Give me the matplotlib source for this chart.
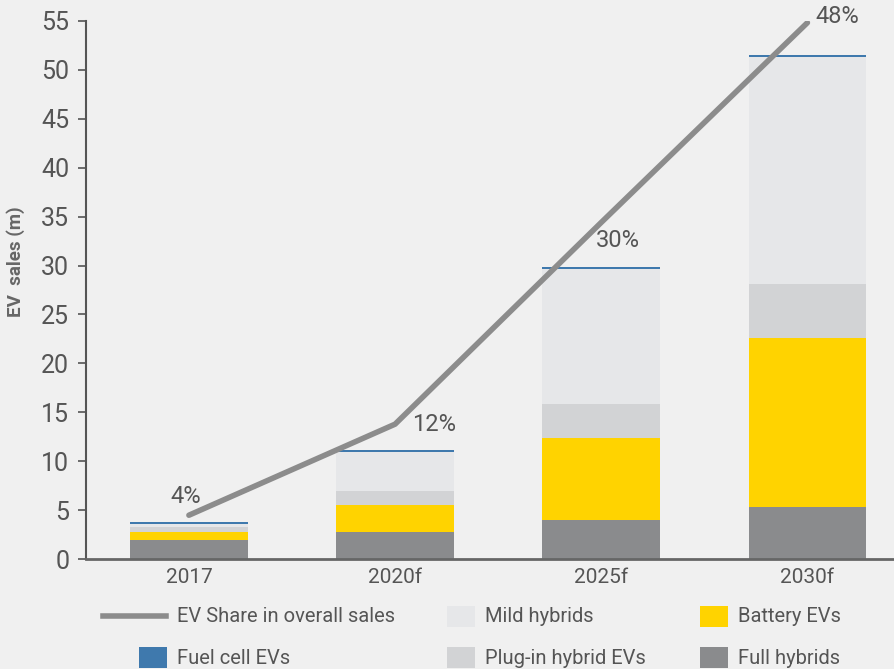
import matplotlib
matplotlib.use('Agg')
import matplotlib.pyplot as plt
import numpy as np
from matplotlib.lines import Line2D
from matplotlib.patches import Rectangle

# データ（百万台）
years = ['2017', '2020f', '2025f', '2030f']
full_hybrids = [2.0, 2.8, 4.0, 5.3]
battery_evs = [0.8, 2.7, 8.4, 17.3]
plugin_hybrids = [0.5, 1.5, 3.5, 5.5]
mild_hybrids = [0.3, 4.0, 13.7, 23.2]
fuel_cell_evs = [0.2, 0.2, 0.2, 0.2]
# EVシェア（線の位置は売上軸上で読み取り）
share_line = [4.5, 13.8, 34.4, 54.8]
share_labels = ['4%', '12%', '30%', '48%']

BG = '#f0f0f0'
TXT = '#555555'
COLORS = {
    'full': '#8a8b8d',
    'battery': '#ffd300',
    'phev': '#d2d3d5',
    'mild': '#e6e7e9',
    'fuel': '#3f79ad',
    'line': '#8c8c8c',
}

plt.rcParams['font.family'] = ['Roboto', 'DejaVu Sans']

fig = plt.figure(figsize=(8.94, 6.69), dpi=100, facecolor=BG)
ax = fig.add_axes([0.096, 0.164, 0.904, 0.805], facecolor=BG)

x = np.arange(len(years))
width = 0.57
bottom = np.zeros(len(years))
for vals, key in [(full_hybrids, 'full'), (battery_evs, 'battery'),
                  (plugin_hybrids, 'phev'), (mild_hybrids, 'mild'),
                  (fuel_cell_evs, 'fuel')]:
    ax.bar(x, vals, width, bottom=bottom, color=COLORS[key], linewidth=0, zorder=2)
    bottom += np.array(vals)

ax.plot(x, share_line, color=COLORS['line'], linewidth=4, solid_capstyle='round', zorder=3)

# シェアラベル（点からのオフセット、ピクセル）
label_offsets = [(-3, 19), (39, 0), (17, -18), (30, 6)]
for xi, yi, lab, (dx, dy) in zip(x, share_line, share_labels, label_offsets):
    ax.annotate(lab, (xi, yi), xytext=(dx, dy), textcoords='offset pixels',
                ha='center', va='center', fontsize=17, color=TXT, zorder=4)

ax.set_xlim(-0.5, 3.42)
ax.set_ylim(0, 55)
ax.set_yticks(np.arange(0, 56, 5))
ax.set_xticks(x)
ax.set_xticklabels(years)
ax.tick_params(axis='y', length=6, width=1.2, color=TXT, labelsize=18, labelcolor=TXT, pad=6)
ax.tick_params(axis='x', length=0, labelsize=15, labelcolor=TXT, pad=6)
for side in ['top', 'right']:
    ax.spines[side].set_visible(False)
ax.spines['left'].set_color(TXT)
ax.spines['left'].set_linewidth(1.5)
ax.spines['bottom'].set_color('#666666')
ax.spines['bottom'].set_linewidth(2)
ax.set_ylabel('EV  sales (m)', fontsize=13.5, fontweight='bold', color='#666666', va='center')
ax.yaxis.set_label_coords(-0.087, 0.552)

# 凡例（手動配置、ピクセル座標）
W, H = 894, 669
legend_items = [
    ('line', 'EV Share in overall sales', COLORS['line'], 103, 616),
    ('box', 'Fuel cell EVs', COLORS['fuel'], 139, 657),
    ('box', 'Mild hybrids', COLORS['mild'], 447, 616),
    ('box', 'Plug-in hybrid EVs', COLORS['phev'], 447, 657),
    ('box', 'Battery EVs', COLORS['battery'], 700, 616),
    ('box', 'Full hybrids', COLORS['full'], 700, 657),
]
for kind, label, color, px, py in legend_items:
    if kind == 'line':
        fig.add_artist(Line2D([px / W, 166 / W], [1 - py / H, 1 - py / H],
                              color=color, linewidth=4, transform=fig.transFigure))
        tx = 177
    else:
        fig.add_artist(Rectangle((px / W, 1 - (py + 11) / H), 28 / W, 21 / H,
                                 color=color, transform=fig.transFigure, linewidth=0))
        tx = px + 38
    fig.text(tx / W, 1 - (py + 1) / H, label, fontsize=14.5, color=TXT, va='center', ha='left')

fig.savefig('out.png', dpi=100, facecolor=BG)
